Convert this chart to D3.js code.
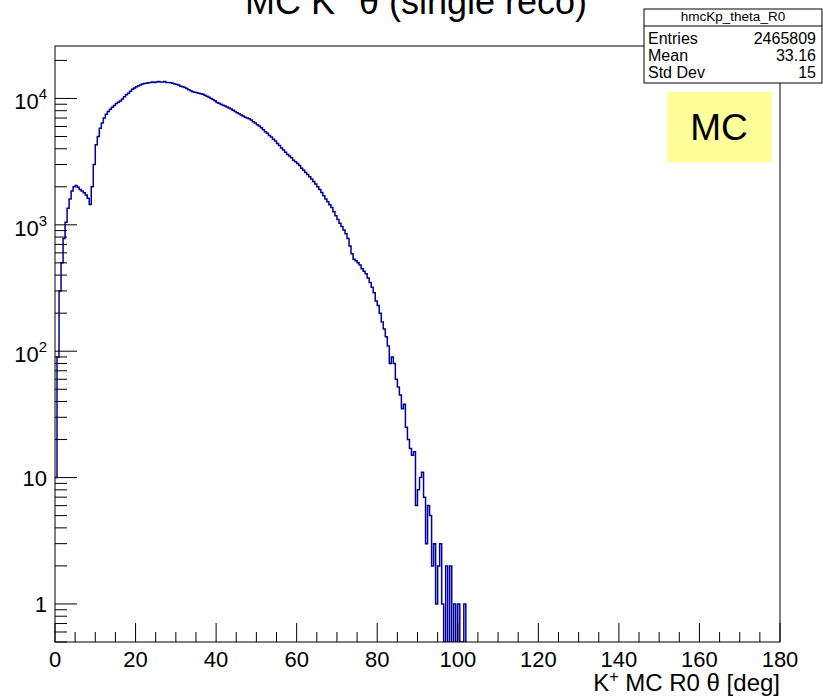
<!DOCTYPE html>
<html>
<head>
<meta charset="utf-8">
<script src="https://cdn.jsdelivr.net/npm/d3@7"></script>
<style>
  html, body { margin: 0; padding: 0; background: #fff; }
  svg { display: block; font-family: "Liberation Sans", Arial, Helvetica, sans-serif; }
</style>
</head>
<body>
<svg id="chart" width="823" height="698"></svg>
<script>
// histogram hmcKp_theta_R0, bins of 0.5 deg starting at 0
const binWidth = 0.5;
const counts = [
  10, 90, 300, 500, 780, 1050, 1350, 1600, 1850, 2000,
  2050, 1980, 1900, 1850, 1790, 1720, 1620, 1450, 2000, 3000,
  4300, 5000, 5800, 6400, 7000, 7500, 7900, 8200, 8500, 8800,
  9100, 9350, 9550, 9900, 10300, 10700, 11000, 11400, 11800, 12100,
  12400, 12600, 12800, 13000, 13100, 13200, 13300, 13400, 13500, 13400,
  13500, 13600, 13500, 13500, 13600, 13400, 13400, 13300, 13200, 13000,
  12900, 12800, 12500, 12400, 12200, 12000, 11700, 11500, 11300, 11200,
  11100, 11000, 10900, 10800, 10600, 10400, 10200, 10000, 9800, 9600,
  9300, 9150, 9000, 8850, 8700, 8550, 8400, 8250, 8050, 7900,
  7700, 7550, 7400, 7250, 7100, 7000, 6900, 6750, 6550, 6400,
  6200, 6050, 5850, 5650, 5450, 5300, 5100, 4950, 4750, 4600,
  4400, 4250, 4050, 3900, 3750, 3600, 3500, 3400, 3250, 3150,
  3050, 2950, 2800, 2700, 2600, 2500, 2400, 2300, 2200, 2100,
  2000, 1900, 1800, 1700, 1600, 1520, 1440, 1370, 1270, 1180,
  1100, 1030, 970, 910, 850, 780, 680, 590, 535, 520,
  500, 480, 450, 430, 410, 380, 350, 320, 290, 250,
  230, 200, 170, 150, 130, 110, 80, 90, 80, 60,
  52, 45, 35, 38, 25, 20, 17, 15, 16, 6,
  8, 10, 11, 7, 3, 6, 5, 2, 3, 1,
  2, 3, 1, 0, 2, 0, 2, 0, 1, 0,
  1, 0, 0, 1
];

const xTicks = [0, 20, 40, 60, 80, 100, 120, 140, 160, 180];
const yTicks = [1, 10, 100, 1000, 10000];
const yTickLabels = [["1", ""], ["10", ""], ["10", "2"], ["10", "3"], ["10", "4"]];

const titleText = ["MC K", "+", " \u03b8 (single reco)"];
const xTitleText = ["K", "+", " MC R0 \u03b8 [deg]"];
const statsName = "hmcKp_theta_R0";
const statsLabels = ["Entries", "Mean", "Std Dev"];
const statsValues = ["2465809", "33.16", "15"];

const svg = d3.select("#chart");
const frame = { left: 55, right: 780, top: 46, bottom: 642 };

const x = d3.scaleLinear().domain([0, 180]).range([frame.left, frame.right]);
const y = d3.scaleLog().domain([0.5, 26000]).range([frame.bottom, frame.top]);

svg.append("clipPath").attr("id", "frameClip")
  .append("rect")
  .attr("x", frame.left).attr("y", frame.top)
  .attr("width", frame.right - frame.left).attr("height", frame.bottom - frame.top);

// histogram outline
const pts = counts.map((c, i) => [i * binWidth, c]);
pts.push([counts.length * binWidth, 0]);
const line = d3.line()
  .x(d => x(d[0]))
  .y(d => d[1] > 0 ? y(d[1]) : frame.bottom)
  .curve(d3.curveStepAfter);

svg.append("path")
  .attr("clip-path", "url(#frameClip)")
  .attr("d", line(pts))
  .attr("fill", "none")
  .attr("stroke", "#00009c")
  .attr("stroke-width", 1.5);

// frame
svg.append("rect")
  .attr("x", frame.left).attr("y", frame.top)
  .attr("width", frame.right - frame.left).attr("height", frame.bottom - frame.top)
  .attr("fill", "none")
  .attr("stroke", "#000")
  .attr("stroke-width", 1);

// x ticks, pointing inward
const xMinor = d3.range(0, 181, 5).filter(v => v % 20 !== 0);
svg.selectAll(".xmaj").data(xTicks).enter().append("line")
  .attr("x1", d => x(d)).attr("x2", d => x(d))
  .attr("y1", frame.bottom).attr("y2", frame.bottom - 19)
  .attr("stroke", "#000");
svg.selectAll(".xmin").data(xMinor).enter().append("line")
  .attr("x1", d => x(d)).attr("x2", d => x(d))
  .attr("y1", frame.bottom).attr("y2", frame.bottom - 10)
  .attr("stroke", "#000");
svg.selectAll(".xlab").data(xTicks).enter().append("text")
  .attr("x", d => x(d))
  .attr("y", 667)
  .attr("text-anchor", "middle")
  .attr("font-size", 22)
  .text(d => d);

// y ticks
const yMinor = [];
[0.1, 1, 10, 100, 1000, 10000].forEach(dec => {
  for (let k = 2; k <= 9; k++) {
    const v = dec * k;
    if (v >= 0.5 && v <= 26000) yMinor.push(v);
  }
});
svg.selectAll(".ymaj").data(yTicks).enter().append("line")
  .attr("x1", frame.left).attr("x2", frame.left + 22)
  .attr("y1", d => y(d)).attr("y2", d => y(d))
  .attr("stroke", "#000");
svg.selectAll(".ymin").data(yMinor).enter().append("line")
  .attr("x1", frame.left).attr("x2", frame.left + 12)
  .attr("y1", d => y(d)).attr("y2", d => y(d))
  .attr("stroke", "#000");

yTicks.forEach((v, i) => {
  const lab = yTickLabels[i];
  const t = svg.append("text")
    .attr("x", 47)
    .attr("y", y(v) + (lab[1] ? 11 : 8))
    .attr("text-anchor", "end")
    .attr("font-size", 22);
  t.append("tspan").text(lab[0]);
  if (lab[1]) t.append("tspan").attr("dy", -10).attr("font-size", 15).text(lab[1]);
});

// title (clipped at top of canvas)
const title = svg.append("text")
  .attr("x", 416).attr("y", 14)
  .attr("text-anchor", "middle")
  .attr("font-size", 36);
title.append("tspan").text(titleText[0]);
title.append("tspan").attr("dy", -14).attr("font-size", 24).text(titleText[1]);
title.append("tspan").attr("dy", 14).text(titleText[2]);

// x axis title
const xt = svg.append("text")
  .attr("x", 780).attr("y", 691)
  .attr("text-anchor", "end")
  .attr("font-size", 24);
xt.append("tspan").text(xTitleText[0]);
xt.append("tspan").attr("dy", -9).attr("font-size", 16).text(xTitleText[1]);
xt.append("tspan").attr("dy", 9).text(xTitleText[2]);

// stats box
const sb = { x: 644, y: 9, w: 178, h: 74 };
svg.append("rect")
  .attr("x", sb.x).attr("y", sb.y).attr("width", sb.w).attr("height", sb.h)
  .attr("fill", "#fff").attr("stroke", "#000").attr("stroke-width", 1);
svg.append("line")
  .attr("x1", sb.x).attr("x2", sb.x + sb.w)
  .attr("y1", 26).attr("y2", 26)
  .attr("stroke", "#000");
svg.append("text")
  .attr("x", sb.x + sb.w / 2).attr("y", 21)
  .attr("text-anchor", "middle")
  .attr("font-size", 13.5)
  .text(statsName);
statsLabels.forEach((s, i) => {
  svg.append("text")
    .attr("x", 648).attr("y", 44 + i * 17)
    .attr("font-size", 16)
    .text(s);
  svg.append("text")
    .attr("x", 816).attr("y", 44 + i * 17)
    .attr("text-anchor", "end")
    .attr("font-size", 16)
    .text(statsValues[i]);
});

// MC label
svg.append("rect")
  .attr("x", 667).attr("y", 92).attr("width", 105).attr("height", 70)
  .attr("fill", "#ffff9c");
svg.append("text")
  .attr("x", 719).attr("y", 140)
  .attr("text-anchor", "middle")
  .attr("font-size", 37)
  .text("MC");
</script>
</body>
</html>
